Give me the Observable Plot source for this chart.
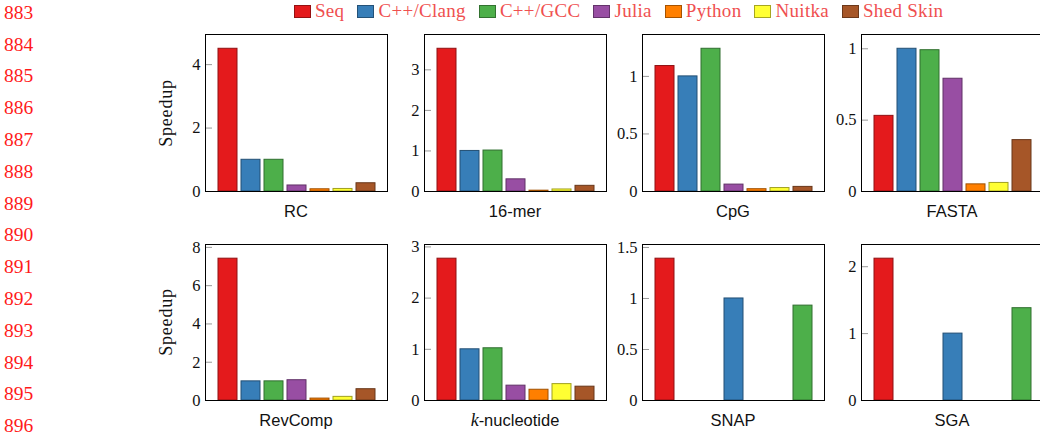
<!DOCTYPE html>
<html><head><meta charset="utf-8">
<script src="https://cdn.jsdelivr.net/npm/d3@7"></script>
<script src="https://cdn.jsdelivr.net/npm/@observablehq/plot@0.6"></script>
<style>
html,body{margin:0;padding:0;background:#fff;overflow:hidden;}
#root{position:relative;width:1040px;height:435px;overflow:hidden;font-family:"Liberation Serif",serif;color:#111;}
.lineno{position:absolute;left:4px;color:#ff1a1a;font-size:19.5px;line-height:20px;font-family:"Liberation Serif",serif;}
.legend{position:absolute;left:294px;top:2px;display:flex;align-items:center;height:18px;color:#ef5050;font-size:19px;letter-spacing:0.3px;white-space:nowrap;}
.legend .item{display:flex;align-items:center;margin-right:13px;}
.legend .sw{width:15px;height:11px;margin-right:4px;border:1px solid;}
.cat{position:absolute;font-family:"Liberation Sans",sans-serif;font-size:16.5px;line-height:18px;text-align:center;color:#111;white-space:nowrap;}
.cat i{font-family:"Liberation Serif",serif;font-size:18px;}
.ylab{position:absolute;font-size:18px;letter-spacing:0.8px;transform:translate(-50%,-50%) rotate(-90deg);white-space:nowrap;}
.panel{position:absolute;}
.panel svg{max-width:none !important;}
.panel svg text{font-family:"Liberation Serif",serif;}
</style></head><body><div id="root"></div>
<script>
// ---- data ----
const series = ["Seq", "C++/Clang", "C++/GCC", "Julia", "Python", "Nuitka", "Shed Skin"];
const seriesColors = ["#e41a1c", "#377eb8", "#4daf4a", "#984ea3", "#ff7f00", "#ffff33", "#a65628"];
const benchmarks = ["RC", "16-mer", "CpG", "FASTA", "RevComp", "k-nucleotide", "SNAP", "SGA"];
const fewSeries = ["Seq", "C++/Clang", "C++/GCC"];

const rcValues      = [4.50, 1.00, 1.00, 0.19, 0.07, 0.08, 0.26];
const kmerValues    = [3.52, 1.00, 1.01, 0.30, 0.02, 0.05, 0.14];
const cpgValues     = [1.09, 1.00, 1.24, 0.06, 0.02, 0.03, 0.04];
const fastaValues   = [0.53, 1.00, 0.99, 0.79, 0.05, 0.06, 0.36];
const revcompValues = [7.41, 1.00, 1.00, 1.06, 0.10, 0.19, 0.59];
const knucValues    = [2.77, 1.00, 1.02, 0.29, 0.21, 0.32, 0.27];
const snapValues    = [1.39, 1.00, 0.93];
const sgaValues     = [2.12, 1.00, 1.38];

const rcTicks      = [0, 2, 4];
const kmerTicks    = [0, 1, 2, 3];
const cpgTicks     = [0, 0.5, 1];
const fastaTicks   = [0, 0.5, 1];
const revcompTicks = [0, 2, 4, 6, 8];
const knucTicks    = [0, 1, 2, 3];
const snapTicks    = [0, 0.5, 1, 1.5];
const sgaTicks     = [0, 1, 2];

const lineNumbers = [883, 884, 885, 886, 887, 888, 889, 890, 891, 892, 893, 894, 895, 896];
const yLabel = "Speedup";

// ---- layout ----
const root = document.getElementById("root");
const colorOf = Object.fromEntries(series.map((s, i) => [s, seriesColors[i]]));

lineNumbers.forEach((n, i) => {
  const d = document.createElement("div");
  d.className = "lineno";
  d.textContent = n;
  d.style.top = (13.3 + i * 31.8 - 10.5) + "px";
  root.appendChild(d);
});

const legend = document.createElement("div");
legend.className = "legend";
series.forEach(s => {
  const it = document.createElement("div");
  it.className = "item";
  const sw = document.createElement("div");
  sw.className = "sw";
  sw.style.background = colorOf[s];
  sw.style.borderColor = d3.color(colorOf[s]).darker(1.2).formatHex();
  const tx = document.createElement("span");
  tx.textContent = s;
  it.appendChild(sw); it.appendChild(tx);
  legend.appendChild(it);
});
root.appendChild(legend);

const panels = [
  {values: rcValues, names: series, ticks: rcTicks},
  {values: kmerValues, names: series, ticks: kmerTicks},
  {values: cpgValues, names: series, ticks: cpgTicks},
  {values: fastaValues, names: series, ticks: fastaTicks},
  {values: revcompValues, names: series, ticks: revcompTicks},
  {values: knucValues, names: series, ticks: knucTicks},
  {values: snapValues, names: fewSeries, ticks: snapTicks},
  {values: sgaValues, names: fewSeries, ticks: sgaTicks}
];

const cols = [205, 424, 642, 861];
const rows = [34, 244];
const heights = [157, 156];
const W = 182, ML = 40, MR = 2, MT = 2, MB = 2;

function makePanel(p, H) {
  const data = p.names.map((s, i) => ({
    series: s, value: p.values[i],
    fill: colorOf[s],
    stroke: d3.color(colorOf[s]).darker(1.3).formatHex()
  }));
  const many = p.names.length > 3;
  return Plot.plot({
    width: ML + W + MR, height: MT + H + MB,
    marginLeft: ML, marginRight: MR, marginTop: MT, marginBottom: MB,
    style: {fontFamily: "Liberation Serif", fontSize: "16.5px", color: "#111", background: "transparent", overflow: "visible", maxWidth: "none"},
    x: {type: "band", domain: p.names, paddingInner: many ? 0.193 : 0.731, paddingOuter: many ? 0.5 : 0.166, axis: null},
    y: {domain: [0, d3.max(p.values) * 1.1], axis: null},
    color: {type: "identity"},
    marks: [
      Plot.barY(data, {x: "series", y: "value", fill: "fill", stroke: "stroke", strokeWidth: 1}),
      Plot.tickY(p.ticks, {y: d => d, stroke: "#999", insetRight: W - 7}),
      Plot.frame({stroke: "#000"}),
      Plot.axisY(p.ticks, {tickSize: 0, tickPadding: 5, label: null, tickFormat: d => String(d), fontSize: 16.5, fill: "#111"})
    ]
  });
}

panels.forEach((p, k) => {
  const r = Math.floor(k / 4), c = k % 4;
  const svg = makePanel(p, heights[r]);
  svg.style.maxWidth = "none";
  const wrap = document.createElement("div");
  wrap.className = "panel";
  wrap.style.left = (cols[c] - ML) + "px";
  wrap.style.top = (rows[r] - MT) + "px";
  wrap.style.width = (ML + W + MR) + "px";
  wrap.appendChild(svg);
  root.appendChild(wrap);

  const lab = document.createElement("div");
  lab.className = "cat";
  const name = benchmarks[k];
  if (name.startsWith("k-")) {
    lab.innerHTML = "<i>k</i>" + name.slice(1);
  } else {
    lab.textContent = name;
  }
  lab.style.left = cols[c] + "px";
  lab.style.width = W + "px";
  lab.style.top = (rows[r] + heights[r] + 11) + "px";
  root.appendChild(lab);
});

rows.forEach((y, r) => {
  const d = document.createElement("div");
  d.className = "ylab";
  d.textContent = yLabel;
  d.style.left = "165.7px";
  d.style.top = (y + heights[r] / 2) + "px";
  root.appendChild(d);
});
</script></body></html>
